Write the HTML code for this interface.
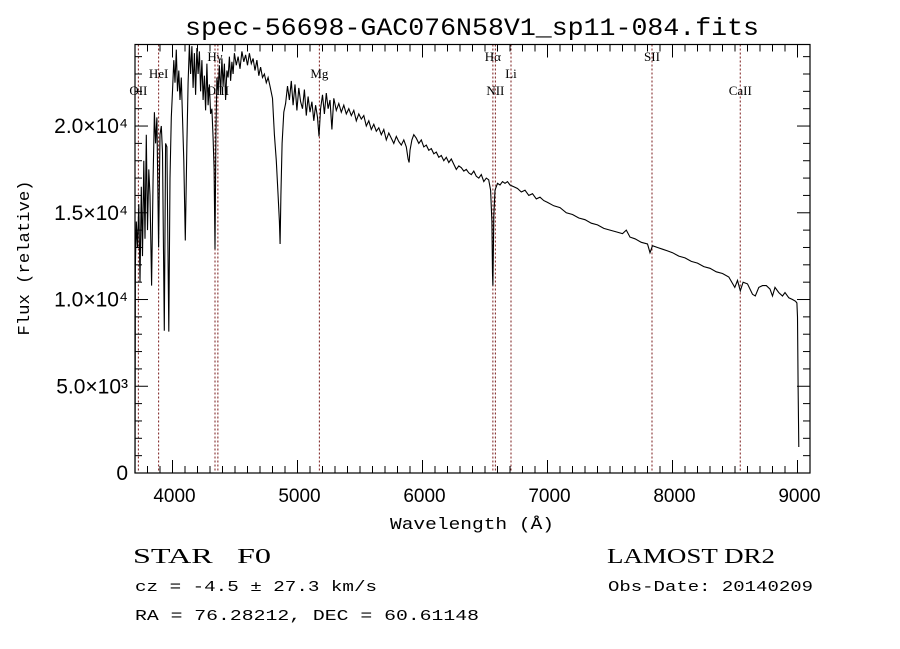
<!DOCTYPE html>
<html><head><meta charset="utf-8"><style>
html,body{margin:0;padding:0;background:#fff;}
svg{display:block;font-family:"Liberation Mono",monospace;}
</style></head><body>
<svg id="chart" width="900" height="649" viewBox="0 0 900 649" xmlns="http://www.w3.org/2000/svg">
<rect x="0" y="0" width="900" height="649" fill="#fff"/>
<text x="472" y="35" text-anchor="middle" font-size="25" textLength="574" lengthAdjust="spacingAndGlyphs">spec-56698-GAC076N58V1_sp11-084.fits</text>
<g id="lines"></g>
<g id="ticks"></g>
<path id="spec" fill="none" stroke="#000" stroke-width="1.1"/>
<rect x="135" y="44.5" width="675" height="428.5" fill="none" stroke="#000" stroke-width="1.2"/>
<text x="472" y="529" text-anchor="middle" font-size="17" textLength="164" lengthAdjust="spacingAndGlyphs">Wavelength (Å)</text>
<text x="0" y="0" transform="translate(29,258) rotate(-90)" text-anchor="middle" font-size="17" textLength="155" lengthAdjust="spacingAndGlyphs">Flux (relative)</text>
<text x="133" y="563" font-size="21" textLength="138" lengthAdjust="spacingAndGlyphs" font-family="Liberation Serif,serif">STAR&#160;&#160;&#160;F0</text>
<text x="607" y="563" font-size="21" textLength="168" lengthAdjust="spacingAndGlyphs" font-family="Liberation Serif,serif">LAMOST DR2</text>
<text x="135" y="591" font-size="15" textLength="242" lengthAdjust="spacingAndGlyphs">cz = -4.5 ± 27.3 km/s</text>
<text x="608" y="591" font-size="15" textLength="205" lengthAdjust="spacingAndGlyphs">Obs-Date: 20140209</text>
<text x="135" y="620" font-size="15" textLength="344" lengthAdjust="spacingAndGlyphs">RA =  76.28212, DEC =  60.61148</text>
</svg>
<script>
const wavelength = [
3700,3703,3710,3720,3730,3740,3750,3760,3770,3780,
3790,3800,3810,3820,3833,3845,3855,3865,3875,3889,
3900,3910,3920,3934,3945,3955,3970,3980,3990,4000,
4010,4020,4030,4040,4050,4060,4070,4080,4090,4102,
4115,4125,4135,4145,4155,4165,4175,4185,4195,4205,
4215,4225,4235,4245,4255,4265,4275,4285,4295,4305,
4315,4325,4333,4340,4347,4355,4365,4375,4385,4395,
4405,4415,4425,4435,4445,4455,4465,4475,4485,4495,
4510,4525,4540,4555,4570,4585,4600,4615,4630,4645,
4660,4675,4690,4705,4720,4735,4750,4765,4780,4800,
4815,4830,4845,4855,4861,4867,4877,4890,4905,4920,
4935,4950,4965,4980,4995,5010,5025,5040,5055,5070,
5085,5100,5115,5130,5145,5160,5172,5185,5200,5215,
5230,5245,5260,5275,5290,5310,5330,5350,5370,5390,
5410,5430,5450,5470,5490,5510,5530,5550,5570,5590,
5610,5630,5650,5670,5690,5710,5730,5750,5770,5790,
5810,5830,5850,5870,5885,5893,5900,5915,5930,5950,
5970,5990,6010,6030,6050,6070,6090,6110,6130,6150,
6170,6190,6210,6230,6250,6270,6290,6310,6330,6350,
6370,6390,6410,6430,6450,6470,6490,6510,6530,6545,
6555,6560,6563,6566,6570,6580,6600,6620,6640,6660,
6680,6700,6730,6760,6790,6820,6850,6880,6910,6940,
6970,7000,7050,7100,7150,7200,7250,7300,7350,7400,
7450,7500,7550,7600,7630,7660,7700,7750,7800,7820,
7840,7880,7920,7960,8000,8050,8100,8150,8200,8250,
8300,8350,8400,8450,8498,8520,8542,8565,8600,8640,
8662,8690,8720,8750,8780,8800,8820,8850,8880,8900,
8930,8960,8985,8995,9000,9005,9010
];
const flux = [
0,12000,14500,13000,15500,11000,16500,12500,18000,13500,
19500,14000,17500,16000,10800,17000,20800,19000,20500,13000,
19500,20000,18500,8200,19000,18800,8150,17000,20500,22000,
23800,22500,24400,22000,23200,21500,22800,20500,18000,13400,
19000,22500,24700,23000,24600,22200,24200,21800,24500,23000,
24300,22000,23800,21500,22900,20900,23600,21200,22400,20700,
21000,19300,17500,12900,19500,22800,22000,23500,21800,23900,
22300,23600,21500,23200,22800,24000,22600,23700,23000,24200,
23500,24000,23300,24300,23700,24100,23500,24200,23600,23900,
23200,23800,22900,23400,22800,23000,22500,22800,22300,21600,
19500,18000,16000,14500,13200,16000,19000,20800,21300,22300,
21500,22600,21200,22400,20900,22200,21400,21000,22100,20600,
21700,20800,21400,20300,21200,20500,19400,21000,21800,20700,
21900,21000,21500,19800,21600,20900,21300,20800,21200,20700,
21000,20600,20900,20300,20700,20400,20600,20000,20300,19800,
20100,19700,19900,19500,19800,19200,19600,19300,19000,19400,
19100,18900,19200,18800,18100,17900,18600,19200,19500,19300,
19000,19200,18800,18900,18600,18700,18400,18500,18200,18300,
18000,18200,17900,18100,17800,17500,17700,17600,17400,17500,
17300,17200,17400,17100,17000,17200,16800,17000,16900,16300,
14500,11500,10800,12500,14800,16300,16700,16600,16800,16700,
16800,16600,16500,16400,16200,16300,16000,16100,15800,15900,
15700,15600,15400,15300,15000,14900,14700,14600,14400,14300,
14100,14000,13900,13800,14000,13600,13500,13300,13200,12700,
13100,13000,12900,12800,12700,12500,12400,12200,12100,11900,
11800,11600,11500,11300,10700,11100,10500,11000,10900,10300,
10200,10700,10800,10800,10600,10200,10700,10400,10200,10400,
10100,10000,9900,9800,9000,5000,1500
];
const xTicks = [4000,5000,6000,7000,8000,9000];
const yTicks = [0,5000,10000,15000,20000];
const yTickLabels = ["0","5.0×10³","1.0×10⁴","1.5×10⁴","2.0×10⁴"];
const lineNames = ["OII","HeI","Hγ","OIII","Mg","Hα","NII","Li","SII","CaII"];
const lineWaves = [3727,3889,4340,4363,5175,6563,6583,6708,7836,8542];
const lineLabelRow = [2,1,0,2,1,0,2,1,0,2];

const X0=3700,X1=9100,Y0=0,Y1=24700;
const L=135,R=810,T=44.5,B=473;
const sx=v=>L+(v-X0)/(X1-X0)*(R-L);
const sy=v=>B-(v-Y0)/(Y1-Y0)*(B-T);
const NS="http://www.w3.org/2000/svg";
function mk(tag,parent){const e=document.createElementNS(NS,tag);parent.appendChild(e);return e;}

let d="";
for(let i=0;i<wavelength.length;i++){d+=(i?"L":"M")+sx(wavelength[i]).toFixed(1)+","+sy(flux[i]).toFixed(1);}
document.getElementById("spec").setAttribute("d",d);

const tg=document.getElementById("ticks");
const svg=document.getElementById("chart");
for(let w=3700;w<=9100;w+=100){
  const x=sx(w);const major=(w%1000===0);const len=major?13:7;
  const a=mk("line",tg);
  
  
  a.setAttribute("x1",x);a.setAttribute("x2",x);a.setAttribute("y1",B);a.setAttribute("y2",B-len);a.setAttribute("stroke","#000");
  const b=mk("line",tg);
  
  
  b.setAttribute("x1",x);b.setAttribute("x2",x);b.setAttribute("y1",T);b.setAttribute("y2",T+len);b.setAttribute("stroke","#000");
}
xTicks.forEach(v=>{
  const t=mk("text",svg);
  
  
  t.setAttribute("x",sx(v)+2);t.setAttribute("y",502);t.setAttribute("text-anchor","middle");
  t.setAttribute("font-size","19");t.setAttribute("font-family","Liberation Sans,sans-serif");t.textContent=String(v);
});
for(let f=0;f<=24000;f+=1000){
  const y=sy(f);const major=(f%5000===0);const len=major?13:7;
  const a=mk("line",tg);
  
  
  a.setAttribute("x1",L);a.setAttribute("x2",L+len);a.setAttribute("y1",y);a.setAttribute("y2",y);a.setAttribute("stroke","#000");
  const b=mk("line",tg);
  
  
  b.setAttribute("x1",R);b.setAttribute("x2",R-len);b.setAttribute("y1",y);b.setAttribute("y2",y);b.setAttribute("stroke","#000");
}
yTicks.forEach((v,i)=>{
  const t=mk("text",svg);
  
  
  t.setAttribute("x",128);t.setAttribute("y",sy(v)+7);t.setAttribute("text-anchor","end");
  t.setAttribute("font-size","21");t.setAttribute("font-family","Liberation Sans,sans-serif");t.textContent=yTickLabels[i];
});
const lg=document.getElementById("lines");
const rowY=[61,78,95];
lineWaves.forEach((w,i)=>{
  const x=sx(w);
  const l=mk("line",lg);
  
  
  l.setAttribute("x1",x);l.setAttribute("x2",x);l.setAttribute("y1",T);l.setAttribute("y2",B);
  l.setAttribute("stroke","#7a1a1a");l.setAttribute("stroke-dasharray","2,2");l.setAttribute("stroke-width","1");
  const t=mk("text",lg);
  
  
  t.setAttribute("x",x);t.setAttribute("y",rowY[lineLabelRow[i]]);t.setAttribute("text-anchor","middle");
  t.setAttribute("font-size","13");t.setAttribute("font-family","Liberation Serif,serif");
  t.textContent=lineNames[i];
});
</script>
</body></html>
